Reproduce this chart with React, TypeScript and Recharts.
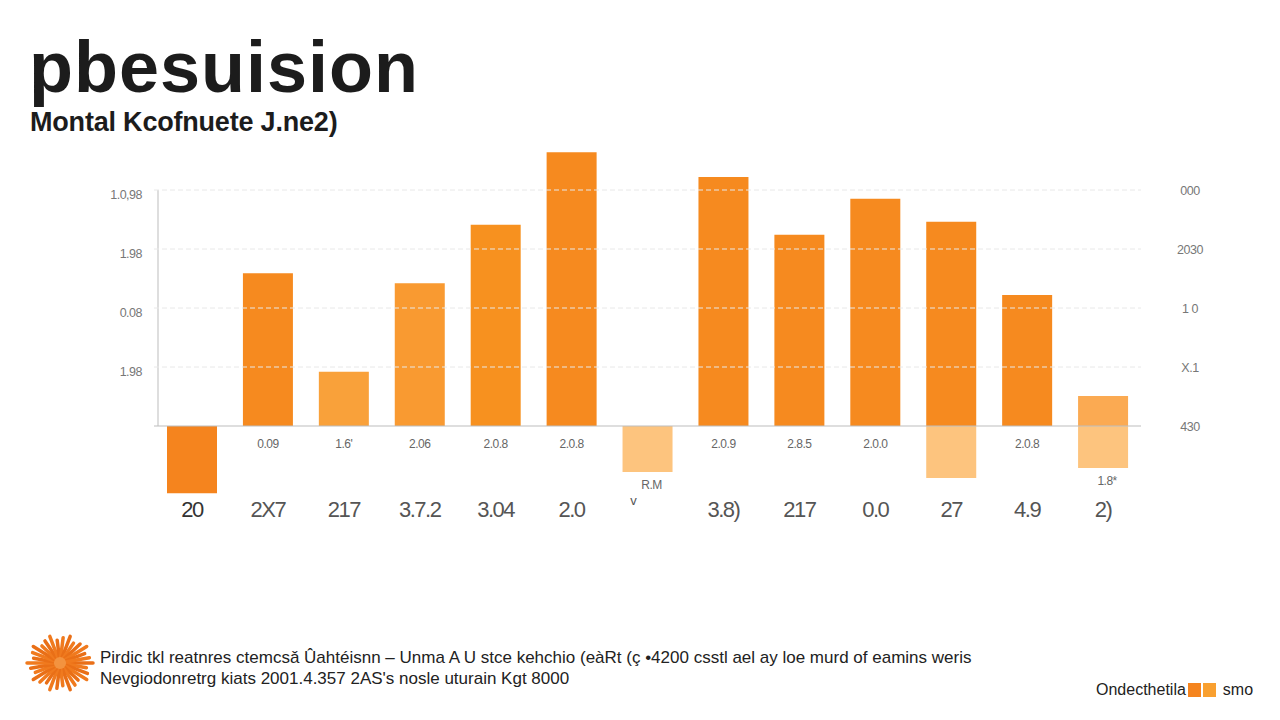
import React from "react";
import {
  BarChart, Bar, XAxis, YAxis, ReferenceLine, ReferenceArea, Cell, LabelList,
} from "recharts";

// categories along the bottom (as printed)
const categories = ["20", "2X7", "217", "3.7.2", "3.04", "2.0", "v", "3.8)", "217", "0.0", "27", "4.9", "2)"];
// main (darker) bars
const primary = [-114, 259, 92, 242, 341, 464, 0, 422, 324, 385, 346, 222, 51];
// pale bars that drop below the baseline
const secondary = [0, 0, 0, 0, 0, 0, -78, 0, 0, 0, -88, 0, -71];
const valueLabels = ["", "0.09", "1.6'", "2.06", "2.0.8", "2.0.8", "", "2.0.9", "2.8.5", "2.0.0", "", "2.0.8", ""];
const lowerLabels = ["", "", "", "", "", "", "R.M", "", "", "", "", "", "1.8*"];

const yTicks = [0, 100, 200, 300, 400];
const leftTickText = ["", "1.98", "0.08", "1.98", "1.0,98"];
const rightTickText = ["430", "X.1", "1 0", "2030", "000"];

const primaryColors = [
  "#F5841E", "#F68A1F", "#F9A13A", "#F99A31", "#F7911F", "#F68A1F", "#F68A1F",
  "#F68A1F", "#F68A1F", "#F68A1F", "#F68A1F", "#F68A1F", "#FBAA52",
];
const PALE = "#FDC47E";

const data = categories.map((cat, i) => ({
  cat,
  primary: primary[i],
  secondary: secondary[i],
  valueLabel: valueLabels[i],
  lowerLabel: lowerLabels[i],
}));

const FONT = "'Liberation Sans', Arial, sans-serif";
const RIGHT_LABEL_X = 1190;

// left axis draws its own labels plus the mirrored ones on the right side
const AxisTick = ({ x, y, payload }: any) => {
  const i = yTicks.indexOf(payload.value);
  return (
    <g>
      {leftTickText[i] ? (
        <text x={x - 4} y={y + 9} textAnchor="end" fill="#777" fontSize={12.5} fontFamily={FONT} letterSpacing={-0.5}>
          {leftTickText[i]}
        </text>
      ) : null}
      <text x={RIGHT_LABEL_X} y={y + 5} textAnchor="middle" fill="#777" fontSize={12.5} fontFamily={FONT} letterSpacing={-0.5}>
        {rightTickText[i]}
      </text>
    </g>
  );
};

const CatTick = ({ x, y, payload, index }: any) => {
  if (index === 6) {
    return (
      <text x={x - 14} y={y} textAnchor="middle" fill="#555" fontSize={13} fontFamily={FONT}>
        {payload.value}
      </text>
    );
  }
  return (
    <text x={x} y={y + 12} textAnchor="middle" fill={index === 0 ? "#333" : "#555"} fontSize={22}
      fontFamily={FONT} letterSpacing={-1.5}>
      {payload.value}
    </text>
  );
};

const valueLabel = (props: any) => {
  const { x, y, width, height, value } = props;
  if (!value) return null;
  return (
    <text x={x + width / 2} y={Math.max(y, y + height) + 22} textAnchor="middle" fill="#666" fontSize={12}
      fontFamily={FONT} letterSpacing={-0.5}>
      {value}
    </text>
  );
};

const lowerLabel = (props: any) => {
  const { x, y, width, height, value } = props;
  if (!value) return null;
  return (
    <text x={x + width / 2 + 4} y={Math.max(y, y + height) + 17} textAnchor="middle" fill="#666" fontSize={12}
      fontFamily={FONT} letterSpacing={-0.5}>
      {value}
    </text>
  );
};

const AxisLineShape = (p: any) => (
  <line x1={p.x + 4} y1={p.y} x2={p.x + 4} y2={p.y + p.height} stroke="#c8c8c8" strokeWidth={1.2} />
);

const Flower = () => {
  const spokes = [];
  for (let i = 0; i < 30; i++) {
    const a = (i / 30) * Math.PI * 2;
    const r = i % 3 === 0 ? 33 : i % 3 === 1 ? 27 : 30;
    spokes.push(
      <line key={i} x1={40 + Math.cos(a) * 7} y1={35 + Math.sin(a) * 6}
        x2={40 + Math.cos(a) * r} y2={35 + Math.sin(a) * r * 0.85}
        stroke={i % 2 ? "#F07A1E" : "#E96F17"} strokeWidth={3.5} strokeLinecap="round" />
    );
  }
  return (
    <svg width={80} height={70} style={{ position: "absolute", left: 20, top: 628 }}>
      {spokes}
      <circle cx={40} cy={35} r={6} fill="#F3933F" />
    </svg>
  );
};

export default function App() {
  return (
    <div style={{ position: "absolute", left: 0, top: 0, width: 1280, height: 720, background: "#fff", overflow: "hidden", fontFamily: FONT }}>
      <div style={{ position: "absolute", left: 29, top: 31, fontSize: 72, lineHeight: "72px", fontWeight: 700, color: "#1c1c1c", letterSpacing: 1 }}>
        pbesuision
      </div>
      <div style={{ position: "absolute", left: 30, top: 107, fontSize: 27, lineHeight: "30px", fontWeight: 700, color: "#1c1c1c", letterSpacing: -0.2 }}>
        Montal Kcofnuete J.ne2)
      </div>

      <div style={{ position: "absolute", left: 0, top: 0 }}>
        <BarChart width={1280} height={720} data={data} stackOffset="sign" barSize={50}
          margin={{ top: 142.8, right: 139, left: 0, bottom: 193.2 }}>
          <XAxis dataKey="cat" height={30} axisLine={false} tickLine={false} tick={<CatTick />} interval={0} />
          <YAxis yAxisId="left" width={154} domain={[-120, 480]} ticks={yTicks} axisLine={false} tickLine={false}
            tick={<AxisTick />} />
          {yTicks.slice(1).map((t) => (
            <ReferenceLine key={t} yAxisId="left" y={t} stroke="#e8e8e8" strokeDasharray="5 3" />
          ))}
          <ReferenceArea yAxisId="left" y1={0} y2={400} shape={<AxisLineShape />} />
          <Bar dataKey="primary" stackId="s" yAxisId="left" isAnimationActive={false}>
            {data.map((d, i) => <Cell key={i} fill={primaryColors[i]} />)}
            <LabelList dataKey="valueLabel" content={valueLabel} />
          </Bar>
          <Bar dataKey="secondary" stackId="s" yAxisId="left" isAnimationActive={false} fill={PALE}>
            <LabelList dataKey="lowerLabel" content={lowerLabel} />
          </Bar>
          <ReferenceLine yAxisId="left" y={0} stroke="#bdbdbd" strokeWidth={1.2} />
        </BarChart>
      </div>

      <Flower />
      <div style={{ position: "absolute", left: 100, top: 647, fontSize: 17, lineHeight: "21px", color: "#222", whiteSpace: "nowrap", letterSpacing: 0 }}>
        <div>Pirdic tkl reatnres ctemcsǎ Ûahtéisnn – Unma A U stce kehchio (eàRt (ç •4200 csstl ael ay loe murd of eamins weris</div>
        <div>Nevgiodonretrg kiats 2001.4.357 2AS's nosle uturain Kgt 8000</div>
      </div>
      <div style={{ position: "absolute", left: 1096, top: 680, fontSize: 16, lineHeight: "20px", color: "#222", whiteSpace: "nowrap", display: "flex", alignItems: "center", letterSpacing: 0 }}>
        <span>Ondecthetila</span>
        <span style={{ display: "inline-block", width: 13, height: 14, background: "#F5841E", marginLeft: 2 }} />
        <span style={{ display: "inline-block", width: 13, height: 14, background: "#F9A030", marginLeft: 2 }} />
        <span style={{ marginLeft: 7 }}>smo</span>
      </div>
    </div>
  );
}
